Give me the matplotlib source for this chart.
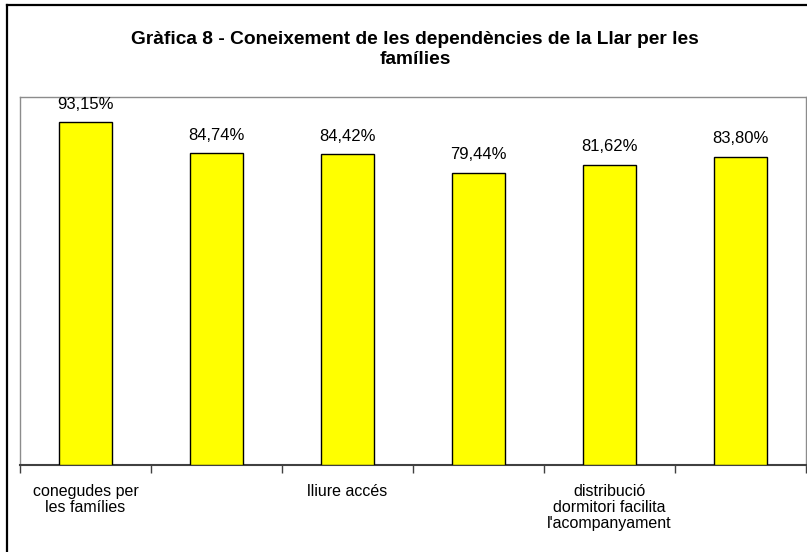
import matplotlib
matplotlib.use("Agg")
import matplotlib.pyplot as plt
from matplotlib.lines import Line2D

categories = ["conegudes per\nles famílies", "", "lliure accés", "",
              "distribució\ndormitori facilita\nl'acompanyament", ""]
values = [93.15, 84.74, 84.42, 79.44, 81.62, 83.80]
value_labels = ["93,15%", "84,74%", "84,42%", "79,44%", "81,62%", "83,80%"]
title = "Gràfica 8 - Coneixement de les dependències de la Llar per les\nfamílies"

plt.rcParams['font.family'] = ['Liberation Sans', 'DejaVu Sans']

W, H = 807, 552
fig = plt.figure(figsize=(W / 100, H / 100), dpi=100)
fig.patch.set_facecolor("white")

# outer chart border (left and top visible)
fig.add_artist(Line2D([7 / W, 7 / W], [0, 1 - 5 / H], transform=fig.transFigure,
                      color="black", lw=1.6))
fig.add_artist(Line2D([7 / W, 1], [1 - 5 / H, 1 - 5 / H], transform=fig.transFigure,
                      color="black", lw=1.6))

left, right, top, bottom = 20, 806, 97, 465
ax = fig.add_axes([left / W, 1 - bottom / H, (right - left) / W, (bottom - top) / H])
x = list(range(len(values)))
ax.bar(x, values, width=0.40, color="#FFFF00", edgecolor="black", linewidth=1.0, zorder=3)
ax.set_xlim(-0.5, len(values) - 0.5)
ax.set_ylim(0, 100)
ax.set_yticks([])

for i, (v, lab) in enumerate(zip(values, value_labels)):
    ax.annotate(lab, (i, v), xytext=(0, 7.5), textcoords="offset points",
                ha="center", va="bottom", fontsize=12)

for s in ["left", "top", "right"]:
    ax.spines[s].set_color("#8c8c8c")
    ax.spines[s].set_linewidth(1.0)
ax.spines["bottom"].set_color("#404040")
ax.spines["bottom"].set_linewidth(1.5)

# tick marks at category boundaries
ax.set_xticks([i - 0.5 for i in range(len(values) + 1)])
ax.set_xticklabels([])
ax.tick_params(axis="x", direction="out", length=6, width=1.0, color="#404040")
ax.set_xticks(x, minor=True)
ax.set_xticklabels(categories, minor=True, fontsize=11.5, linespacing=1.08, ha="center", va="top")
ax.tick_params(axis="x", which="minor", length=0, pad=14)

fig.text(415 / W, 1 - 49.5 / H, title, ha="center", va="center", fontsize=13.8,
         fontweight="bold", linespacing=1.3)

fig.savefig("out.png", dpi=100, facecolor="white")
